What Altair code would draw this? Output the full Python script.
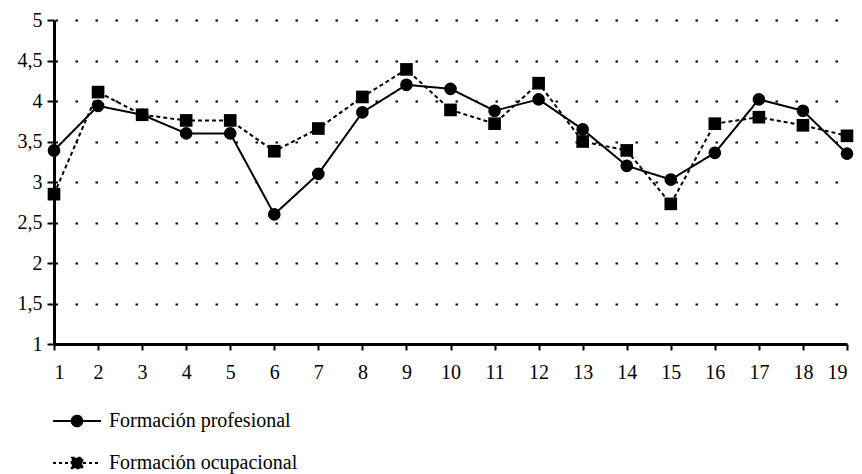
import altair as alt
import pandas as pd

x_vals = list(range(1, 19 + 1))
series = ["Formación profesional", "Formación ocupacional"]
profesional = [3.39, 3.94, 3.83, 3.60, 3.60, 2.60, 3.10, 3.86, 4.20, 4.15, 3.88, 4.02, 3.65, 3.20, 3.03, 3.36, 4.02, 3.88, 3.35]
ocupacional = [2.85, 4.11, 3.83, 3.76, 3.76, 3.38, 3.66, 4.05, 4.39, 3.89, 3.72, 4.22, 3.50, 3.39, 2.73, 3.72, 3.80, 3.70, 3.57]
y_ticks = [1, 1.5, 2, 2.5, 3, 3.5, 4, 4.5, 5]

rows = []
for s, vals in zip(series, [profesional, ocupacional]):
    for xv, yv in zip(x_vals, vals):
        rows.append({"n": xv, "valor": yv, "serie": s})
df = pd.DataFrame(rows)

FONT = "Liberation Serif"

x_enc = alt.X("n:Q", scale=alt.Scale(domain=[1, 19], nice=False, zero=False),
              axis=alt.Axis(values=x_vals, title=None, grid=False, format="d",
                            tickSize=6, tickWidth=2, domainWidth=3, labelPadding=12,
                            labelFont=FONT, labelFontSize=20, labelColor="black"))
y_enc = alt.Y("valor:Q", scale=alt.Scale(domain=[1, 5], nice=False, zero=False),
              axis=alt.Axis(values=y_ticks, title=None, grid=True, gridDash=[2.5, 17.5],
                            gridDashOffset=19, gridWidth=2, gridColor="black",
                            tickSize=7, tickWidth=2, domainWidth=3, labelPadding=5,
                            format="~g", labelFont=FONT, labelFontSize=20, labelColor="black",
                            labelExpr="replace(datum.label, '.', ',')"))

base = alt.Chart(df)

lines = base.mark_line(color="black", strokeWidth=2).encode(
    x=x_enc, y=y_enc,
    strokeDash=alt.StrokeDash("serie:N", scale=alt.Scale(domain=series, range=[[1, 0], [4, 3]]), legend=None),
)

points = base.mark_point(filled=True, color="black", opacity=1, size=160).encode(
    x=x_enc, y=y_enc,
    shape=alt.Shape("serie:N", scale=alt.Scale(domain=series, range=["circle", "square"]), legend=None),
)

path_circle = "M-1.5,0L1.5,0M-0.33,0A0.33,0.33 0 1,1 0.33,0A0.33,0.33 0 1,1 -0.33,0Z"
path_square = "M-1.5,0L1.5,0M-0.33,-0.33L0.33,-0.33L0.33,0.33L-0.33,0.33Z"

leg = dict(title=None, orient="none", legendX=6, legendY=384, labelFont=FONT, labelFontSize=20,
           labelColor="black", symbolSize=1024, symbolStrokeWidth=2,
           labelOffset=15, rowPadding=15, padding=0, labelLimit=0)

legend_layer = base.transform_filter("false").mark_point(
    filled=False, fill="black", stroke="black", strokeWidth=2, opacity=1
).encode(
    shape=alt.Shape("serie:N", scale=alt.Scale(domain=series, range=[path_circle, path_square]),
                    legend=alt.Legend(**leg)),
    strokeDash=alt.StrokeDash("serie:N", scale=alt.Scale(domain=series, range=[[1, 0], [3, 3]]),
                              legend=alt.Legend(**leg)),
)

chart = alt.layer(lines, points, legend_layer).resolve_scale(
    shape="independent", strokeDash="independent"
).properties(
    width=793, height=324,
    background="white",
    autosize=alt.AutoSizeParams(type="none"),
    padding={"left": 46, "top": 12, "right": 7, "bottom": 140},
).configure_view(stroke=None).configure_axis(
    domainColor="black", tickColor="black"
)

chart.save("out.html", embed_options={"renderer": "svg", "actions": False})
